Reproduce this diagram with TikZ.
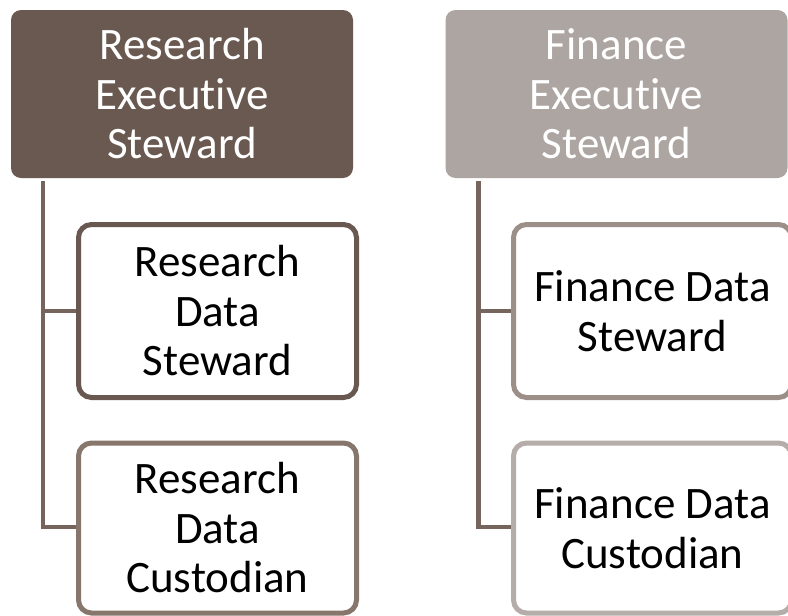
\documentclass[tikz,border=0pt]{standalone}
\usepackage{fontspec}
\setmainfont{Carlito}[Ligatures=NoCommon]
\definecolor{rexecC}{HTML}{6A5950}
\definecolor{fexecC}{HTML}{ADA5A1}
\definecolor{connC}{HTML}{75655D}
\definecolor{rdsC}{HTML}{685850}
\definecolor{rdcC}{HTML}{86766C}
\definecolor{fdsC}{HTML}{9B8F88}
\definecolor{fdcC}{HTML}{B5ADA9}
\pgfdeclarelayer{bg}
\pgfsetlayers{bg,main}
\begin{document}
\begin{tikzpicture}[x=1pt,y=-1pt,
  execbox/.style={rectangle, rounded corners=10pt, draw=none, minimum width=342pt, minimum height=168pt,
    text=white, align=center, font=\fontsize{45}{49.5}\selectfont, inner sep=0pt, outer sep=0pt},
  childbox/.style={rectangle, rounded corners=13pt, line width=5pt, fill=white, minimum width=278pt,
    text=black, align=center, font=\fontsize{45}{49.5}\selectfont, inner sep=0pt, outer sep=0pt},
  conn/.style={draw=connC, line width=4.5pt}]
\useasboundingbox (0,0) rectangle (788,616);
\clip (0,0) rectangle (788,616);
\node[execbox, fill=rexecC] (rexec) at (182,94) {Research\\Executive\\Steward};
\node[execbox, fill=fexecC] (fexec) at (616.5,94) {Finance\\Executive\\Steward};
\node[childbox, draw=rdsC, minimum height=173pt] (rds) at (217.5,311) {Research\\Data\\Steward};
\node[childbox, draw=rdcC, minimum height=170pt] (rdc) at (217.5,528) {Research\\Data\\Custodian};
\node[childbox, draw=fdsC, minimum height=173pt] (fds) at (652.5,311) {Finance Data\\Steward};
\node[childbox, draw=fdcC, minimum height=170pt] (fdc) at (652.5,528) {Finance Data\\Custodian};
\coordinate (rtop) at (43,181);
\coordinate (ftop) at (478.5,181);
\begin{pgfonlayer}{bg}
\draw[conn] (rtop) |- (rds.west);
\draw[conn] (rtop) |- ([yshift=1pt]rdc.west);
\draw[conn] (ftop) |- (fds.west);
\draw[conn] (ftop) |- ([yshift=1pt]fdc.west);
\end{pgfonlayer}
\end{tikzpicture}
\end{document}
